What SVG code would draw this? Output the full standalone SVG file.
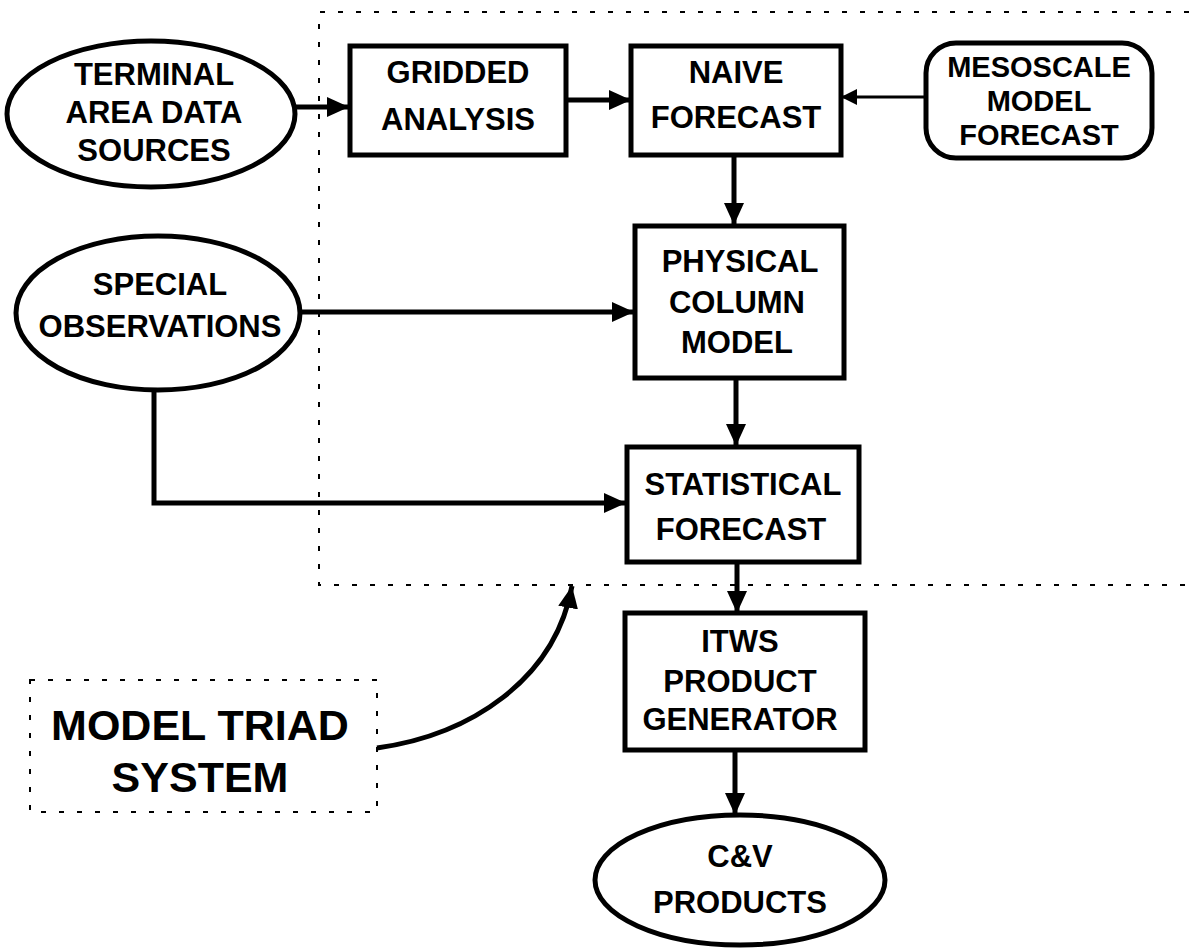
<svg xmlns="http://www.w3.org/2000/svg" width="1189" height="950" viewBox="0 0 1189 950">
<style>
.node{fill:#fff;stroke:#000;stroke-width:5}
.t{font-family:"Liberation Sans",Arial,Helvetica,sans-serif;font-weight:bold;font-size:31px;text-anchor:middle;fill:#000}
.meso{font-size:29px}
.big{font-size:43px}
.dot{fill:none;stroke:#000;stroke-width:2;stroke-dasharray:5 13}
.c{fill:none;stroke:#000;stroke-width:5}
.cthin{fill:none;stroke:#000;stroke-width:3}
</style>
<defs>
<marker id="ah" markerUnits="userSpaceOnUse" markerWidth="24" markerHeight="20" refX="22" refY="10" orient="auto">
<path d="M0,0 L22,10 L0,20 z" fill="#000"/>
</marker>
<marker id="ahs" markerUnits="userSpaceOnUse" markerWidth="18" markerHeight="18" refX="16" refY="8" orient="auto">
<path d="M0,0 L16,8 L0,16 z" fill="#000"/>
</marker>
</defs>
<rect width="1189" height="950" fill="#fff"/>
<g id="triad-boundary">
<path class="dot" d="M1189,12 H319 V585 H1189"/>
</g>
<g id="connectors">
<line class="c" x1="295" y1="107" x2="349" y2="107" marker-end="url(#ah)"/>
<line class="c" x1="566" y1="100" x2="631" y2="100" marker-end="url(#ah)"/>
<line class="cthin" x1="926" y1="97" x2="841" y2="97" marker-end="url(#ahs)"/>
<line class="c" x1="734" y1="155" x2="734" y2="225" marker-end="url(#ah)"/>
<line class="c" x1="300" y1="312" x2="634" y2="312" marker-end="url(#ah)"/>
<line class="c" x1="736" y1="377" x2="736" y2="446" marker-end="url(#ah)"/>
<polyline class="c" points="154,390 154,503 626,503" marker-end="url(#ah)"/>
<line class="c" x1="737" y1="562" x2="737" y2="613" marker-end="url(#ah)"/>
<line class="c" x1="735" y1="750" x2="735" y2="815" marker-end="url(#ah)"/>
<path class="c" d="M377,748 C470,735 555,680 572,586" marker-end="url(#ah)"/>
</g>
<g id="terminal">
<ellipse class="node" cx="151" cy="114" rx="144" ry="73"/>
<text class="t" x="154" y="85">TERMINAL</text>
<text class="t" x="154" y="123">AREA DATA</text>
<text class="t" x="154" y="161">SOURCES</text>
</g>
<g id="gridded">
<rect class="node" x="350" y="46" width="216" height="109"/>
<text class="t" x="458" y="83">GRIDDED</text>
<text class="t" x="458" y="130">ANALYSIS</text>
</g>
<g id="naive">
<rect class="node" x="631" y="46" width="210" height="109"/>
<text class="t" x="736" y="83">NAIVE</text>
<text class="t" x="736" y="128">FORECAST</text>
</g>
<g id="mesoscale">
<rect class="node" x="926" y="43" width="226" height="115" rx="30" ry="30"/>
<text class="t meso" x="1039" y="77">MESOSCALE</text>
<text class="t meso" x="1039" y="111">MODEL</text>
<text class="t meso" x="1039" y="145">FORECAST</text>
</g>
<g id="physical">
<rect class="node" x="635" y="226" width="209" height="152"/>
<text class="t" x="740" y="272">PHYSICAL</text>
<text class="t" x="737" y="313">COLUMN</text>
<text class="t" x="737" y="353">MODEL</text>
</g>
<g id="special">
<ellipse class="node" cx="158" cy="313" rx="142" ry="77"/>
<text class="t" x="160" y="295">SPECIAL</text>
<text class="t" x="160" y="337">OBSERVATIONS</text>
</g>
<g id="statistical">
<rect class="node" x="627" y="447" width="232" height="115"/>
<text class="t" x="743" y="495">STATISTICAL</text>
<text class="t" x="741" y="540">FORECAST</text>
</g>
<g id="itws">
<rect class="node" x="625" y="613" width="240" height="137"/>
<text class="t" x="740" y="652">ITWS</text>
<text class="t" x="740" y="692">PRODUCT</text>
<text class="t" x="740" y="730">GENERATOR</text>
</g>
<g id="cv">
<ellipse class="node" cx="740" cy="880" rx="145" ry="65"/>
<text class="t" x="740" y="867">C&amp;V</text>
<text class="t" x="740" y="913">PRODUCTS</text>
</g>
<g id="model-triad">
<rect class="dot" x="30" y="680" width="347" height="132"/>
<text class="t big" x="200" y="740">MODEL TRIAD</text>
<text class="t big" x="200" y="792">SYSTEM</text>
</g>
</svg>
